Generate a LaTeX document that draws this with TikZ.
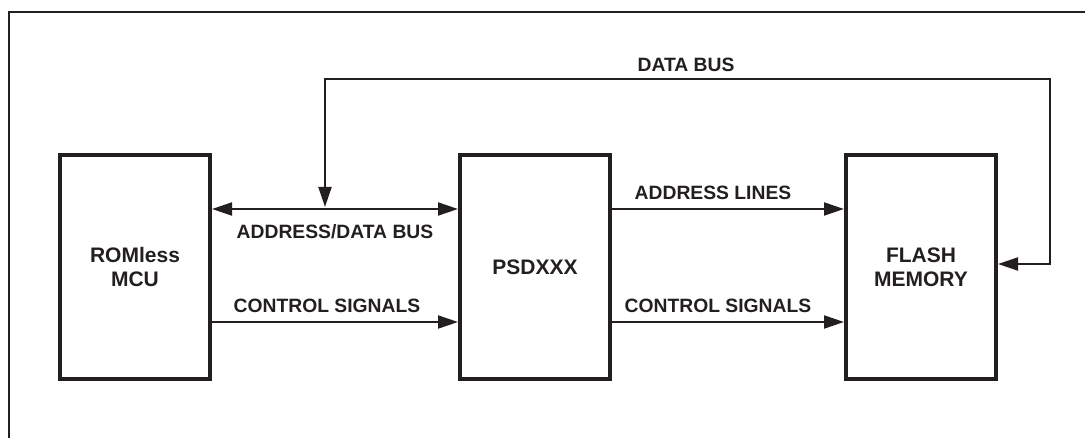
\documentclass[tikz,border=0pt]{standalone}
\usepackage{fontspec}
\setmainfont{Liberation Sans}
\usetikzlibrary{arrows.meta}
\definecolor{ink}{HTML}{231F20}
\begin{document}
\begin{tikzpicture}[x=1pt,y=-1pt,
  blk/.style={draw=ink,line width=4pt,minimum width=150pt,minimum height=224pt,inner sep=0pt,
    font=\fontsize{21}{24}\selectfont\bfseries,text=ink,align=center},
  lbl/.style={font=\fontsize{19.3}{22}\selectfont\bfseries,text=ink,inner sep=0pt},
  conn/.style={draw=ink,line width=2pt,-{Triangle[length=20pt,width=13pt]}},
  bconn/.style={draw=ink,line width=2pt,{Triangle[length=20pt,width=13pt]}-{Triangle[length=20pt,width=13pt]}}]
\useasboundingbox (0,0) rectangle (1085,438);
% frame
\draw[ink,line width=1.6pt] (9,438) -- (9,12) -- (1085,12);
% blocks
\node[blk] (mcu) at (135,267) {ROMless\\MCU};
\node[blk] (psd) at (535,267) {PSDXXX};
\node[blk] (flash) at (921,267) {FLASH\\MEMORY};
% levels
\coordinate (yA) at (0,209);
\coordinate (yC) at (0,322);
\coordinate (yF) at (0,264);
\coordinate (cornerR) at (1050,79);
\coordinate (dtip) at (325,207);
% connectors
\draw[bconn] (mcu.east |- yA) -- (psd.west |- yA);
\draw[conn] (mcu.east |- yC) -- (psd.west |- yC);
\draw[conn] (psd.east |- yA) -- (flash.west |- yA);
\draw[conn] (psd.east |- yC) -- (flash.west |- yC);
\draw[bconn] (flash.east |- yF) -| (cornerR) -| (dtip);
% labels
\node[lbl] (ldb) at (686,65) {DATA BUS};
\node[lbl] (lad) at (335,232) {ADDRESS/DATA BUS};
\node[lbl] (lc1) at (327,306) {CONTROL SIGNALS};
\node[lbl] (lal) at (713,193) {ADDRESS LINES};
\node[lbl] (lc2) at (718,306) {CONTROL SIGNALS};
\end{tikzpicture}
\end{document}
